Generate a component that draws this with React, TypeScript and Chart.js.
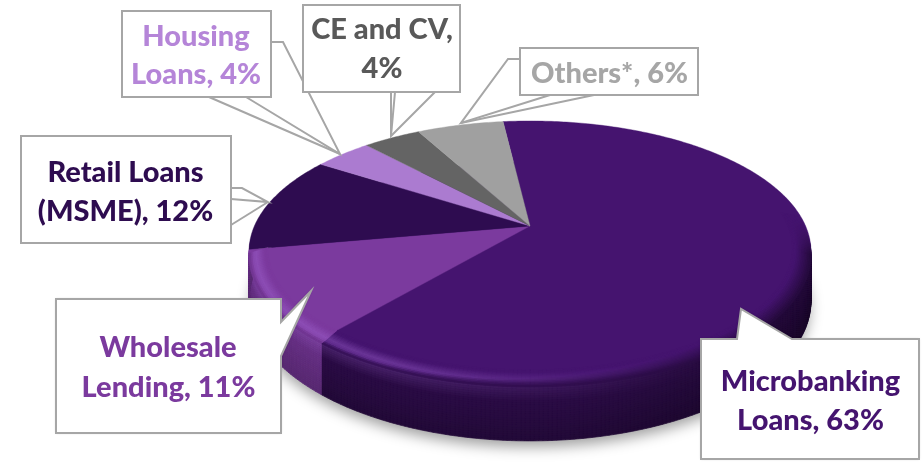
import React, { useEffect, useRef } from "react";
import { Chart, registerables } from "chart.js";

Chart.register(...registerables);

// ---- data ----
const categories = ["Microbanking Loans", "Wholesale Lending", "Retail Loans (MSME)", "Housing Loans", "CE and CV", "Others*"];
const shares = [63, 11, 12, 4, 4, 6];
const labelLines = [
  ["Microbanking", "Loans, 63%"],
  ["Wholesale", "Lending, 11%"],
  ["Retail Loans", "(MSME), 12%"],
  ["Housing", "Loans, 4%"],
  ["CE and CV,", "4%"],
  ["Others*, 6%"],
];

// ---- styles ----
const faceColors = ["#45146F", "#7B3A9E", "#2E0C50", "#AB7BD0", "#646464", "#A0A0A0"];
const textColors = ["#45146F", "#7B3A9E", "#2E0C50", "#B585D8", "#595959", "#A6A6A6"];
const sideDark = [0.34, 0.12, 0.3, 0.2, 0.3, 0.3];
const FONT = "900 29px Lato";
const BORDER = "#A6A6A6";

// perspective of the disc
const CX = 530, CY = 226, RX = 275.6, RY = 125.5, K = 0.195, DEPTH = 47.5;

type Pt = [number, number];
function project(a: number, r: number, d: number): Pt {
  const X = r * Math.cos(a), Y = r * Math.sin(a);
  const den = 1 - K * Y;
  return [CX + (RX * X) / den, CY + (RY * Y) / den + d / den];
}
function hex(c: string): number[] {
  return [1, 3, 5].map((i) => parseInt(c.slice(i, i + 2), 16));
}
function mix(a: number[], b: number[], t: number): number[] {
  return a.map((v, i) => v + (b[i] - v) * t);
}
function css(c: number[]): string {
  return `rgb(${Math.round(c[0])},${Math.round(c[1])},${Math.round(c[2])})`;
}
const clamp = (v: number) => Math.max(0, Math.min(1, v));

// callout geometry: box, fill wedge or extra leader lines
type Callout = { idx: number; box: number[]; outline?: Pt[]; lines?: Pt[][]; text: Pt[] };
const callouts: Callout[] = [
  { idx: 5, box: [520, 48, 698, 95], lines: [[[520, 59], [508, 59], [461, 123], [550, 95]], [[461, 123], [594, 95]]], text: [[609.5, 83]] },
  { idx: 3, box: [122, 11, 271, 97], lines: [[[271, 42], [283, 42], [340, 154], [246, 97]], [[340, 154], [209, 97]]], text: [[196, 46], [196, 84]] },
  { idx: 4, box: [303, 5, 460, 92], lines: [[[391, 92], [391, 136], [435, 92]], [[395, 92], [391, 136]]], text: [[382, 39], [382, 78]] },
  { idx: 2, box: [21, 136, 231, 243], lines: [[[231, 188], [242, 188], [268, 202], [231, 199]], [[268, 202], [231, 225]]], text: [[125.5, 182], [125.5, 221]] },
  { idx: 1, box: [56, 299, 281, 433], outline: [[56, 299], [281, 299], [281, 322], [311, 291], [281, 356], [281, 433], [56, 433]], text: [[168, 357], [168.5, 397]] },
  { idx: 0, box: [701, 339, 919, 459], outline: [[701, 339], [737, 339], [741, 309], [792, 339], [919, 339], [919, 459], [701, 459]], text: [[810.5, 391], [810.5, 430]] },
];

function quad(ctx: CanvasRenderingContext2D, p: Pt[], color: string) {
  ctx.beginPath();
  p.forEach((q, i) => (i ? ctx.lineTo(q[0], q[1]) : ctx.moveTo(q[0], q[1])));
  ctx.closePath();
  ctx.fillStyle = color;
  ctx.strokeStyle = color;
  ctx.lineWidth = 0.7;
  ctx.fill();
  ctx.stroke();
}

const STEP = Math.PI / 240;

const piePlugin = {
  id: "perspectivePie",
  beforeDatasetsDraw(chart: any) {
    const ctx: CanvasRenderingContext2D = chart.ctx;
    const arcs = chart.getDatasetMeta(0).data;
    ctx.save();

    // soft shadow under the disc
    ctx.save();
    ctx.shadowColor = "rgba(0,0,0,0.38)";
    ctx.shadowBlur = 14;
    ctx.shadowOffsetY = 7;
    ctx.beginPath();
    for (let a = 0; a < Math.PI * 2; a += STEP) {
      const p = project(a, 0.995, DEPTH);
      a ? ctx.lineTo(p[0], p[1]) : ctx.moveTo(p[0], p[1]);
    }
    ctx.closePath();
    ctx.fillStyle = "#2a0c48";
    ctx.fill();
    ctx.restore();

    const highlightAt = (a: number) => clamp((0.55 - Math.cos(a)) / 1.0);
    const BANDS = 24;

    // side wall; the wholesale wall wraps round the left silhouette
    arcs.forEach((arc: any, i: number) => {
      if (i === 2) return;
      const face = hex(faceColors[i]);
      const end = i === 1 ? arc.endAngle + 0.3 : arc.endAngle;
      for (let a = arc.startAngle; a < end; a += STEP) {
        const b = Math.min(a + STEP, end);
        if (Math.sin(a) < -0.05) continue;
        const rightDark = clamp((Math.cos(a) - 0.1) / 0.7);
        for (let j = 0; j < BANDS; j++) {
          const u0 = j / BANDS, u1 = (j + 1) / BANDS;
          const d0 = 4 + u0 * (DEPTH - 4), d1 = 4 + u1 * (DEPTH - 4);
          const dark = sideDark[i] + 0.16 * u0 + 0.14 * rightDark;
          const h = highlightAt(a) * clamp(1 - u0 * 4) * 0.2;
          const c = mix(mix(face, [0, 0, 0], dark), [170, 110, 220], h);
          quad(ctx, [project(a, 1, d0), project(b, 1, d0), project(b, 1, d1), project(a, 1, d1)], css(c));
        }
      }
    });

    // flat faces
    arcs.forEach((arc: any, i: number) => {
      ctx.beginPath();
      ctx.moveTo(CX, CY);
      for (let a = arc.startAngle; a < arc.endAngle; a += STEP) {
        const p = project(a, 1, 0);
        ctx.lineTo(p[0], p[1]);
      }
      const e = project(arc.endAngle, 1, 0);
      ctx.lineTo(e[0], e[1]);
      ctx.closePath();
      ctx.fillStyle = arc.options.backgroundColor;
      ctx.strokeStyle = arc.options.backgroundColor;
      ctx.lineWidth = 0.4;
      ctx.fill();
      ctx.stroke();
    });

    // bevel round the front rim
    arcs.forEach((arc: any, i: number) => {
      if (i === 2) return;
      const face = hex(faceColors[i]);
      const NB = 12;
      for (let a = arc.startAngle; a < arc.endAngle; a += STEP) {
        const b = Math.min(a + STEP, arc.endAngle);
        const s = clamp((Math.sin(a) + 0.12) / 0.3);
        if (s <= 0) continue;
        const h = highlightAt(a);
        const side = mix(face, [0, 0, 0], sideDark[i] + 0.14 * clamp((Math.cos(a) - 0.1) / 0.7));
        for (let j = 0; j < NB; j++) {
          const u0 = j / NB, u1 = (j + 1) / NB;
          const r0 = 0.935 + u0 * 0.065, r1 = 0.935 + u1 * 0.065;
          const d0 = u0 * 4, d1 = u1 * 4;
          const bump = Math.max(0, 1 - Math.abs(u0 - 0.6) / 0.45);
          let c = mix(face, [170, 110, 220], 0.38 * h * bump);
          c = mix(c, side, clamp((u0 - (0.15 + 0.6 * h)) / (0.85 - 0.6 * h)) * s);
          quad(ctx, [project(a, r0, d0), project(b, r0, d0), project(b, r1, d1), project(a, r1, d1)], css(mix(face, c, s)));
        }
      }
    });
    ctx.restore();
    return false;
  },
  afterDraw(chart: any) {
    const ctx: CanvasRenderingContext2D = chart.ctx;
    ctx.save();
    ctx.lineJoin = "miter";
    callouts.forEach((c) => {
      const [x0, y0, x1, y1] = c.box;
      ctx.strokeStyle = BORDER;
      ctx.lineWidth = 2;
      if (c.outline) {
        ctx.save();
        ctx.shadowColor = "rgba(0,0,0,0.2)";
        ctx.shadowBlur = 3;
        ctx.beginPath();
        c.outline.forEach((p, i) => (i ? ctx.lineTo(p[0], p[1]) : ctx.moveTo(p[0], p[1])));
        ctx.closePath();
        ctx.fillStyle = "#fff";
        ctx.fill();
        ctx.restore();
        ctx.stroke();
      } else {
        (c.lines || []).forEach((l) => {
          ctx.beginPath();
          l.forEach((p, i) => (i ? ctx.lineTo(p[0], p[1]) : ctx.moveTo(p[0], p[1])));
          ctx.lineWidth = 2;
          ctx.stroke();
        });
        ctx.lineWidth = 2;
        ctx.fillStyle = "#fff";
        ctx.fillRect(x0, y0, x1 - x0, y1 - y0);
        ctx.strokeRect(x0, y0, x1 - x0, y1 - y0);
      }
      ctx.fillStyle = textColors[c.idx];
      ctx.font = FONT;
      ctx.textAlign = "center";
      ctx.textBaseline = "alphabetic";
      labelLines[c.idx].forEach((t, i) => ctx.fillText(t, c.text[i][0], c.text[i][1]));
    });
    ctx.restore();
  },
};

export default function App() {
  const ref = useRef<HTMLCanvasElement>(null);
  useEffect(() => {
    const chart = new Chart(ref.current!, {
      type: "pie",
      data: {
        labels: categories,
        datasets: [{ data: shares, backgroundColor: faceColors, borderWidth: 0 }],
      },
      options: {
        responsive: false,
        animation: false,
        rotation: -6.7,
        plugins: { legend: { display: false }, tooltip: { enabled: false } },
      },
      plugins: [piePlugin],
    } as any);
    return () => chart.destroy();
  }, []);
  return (
    <div style={{ position: "fixed", left: 0, top: 0, width: 922, height: 462, background: "#fff" }}>
      <canvas ref={ref} width={922} height={462} style={{ display: "block" }} />
    </div>
  );
}
